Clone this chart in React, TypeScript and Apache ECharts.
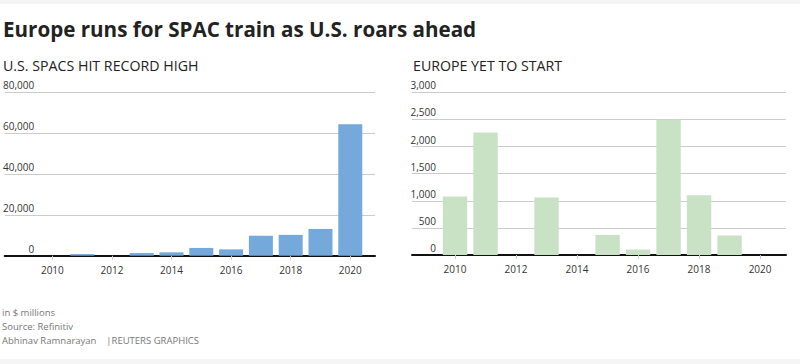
import React, { useEffect, useRef } from "react";
import * as echarts from "echarts";

const years = [2010, 2011, 2012, 2013, 2014, 2015, 2016, 2017, 2018, 2019, 2020];
const usValues = [0, 800, 0, 1300, 1650, 3800, 3100, 9750, 10200, 13100, 64300];
const europeValues = [1080, 2260, 0, 1060, 0, 370, 100, 2500, 1100, 360, 0];
const yearLabels = [2010, 2012, 2014, 2016, 2018, 2020];

const titleText = "Europe runs for SPAC train as U.S. roars ahead";
const leftSubtitle = "U.S. SPACS HIT RECORD HIGH";
const rightSubtitle = "EUROPE YET TO START";
const footerLines = ["in $ millions", "Source: Refinitiv", "Abhinav Ramnarayan    |REUTERS GRAPHICS"];

const FONT = "'Open Sans', 'Noto Sans', sans-serif";

export default function App() {
  const ref = useRef<HTMLDivElement>(null);
  useEffect(() => {
    if (!ref.current) return;
    const chart = echarts.init(ref.current, null, { renderer: "svg" });
    const xAxisBase = (min: number, max: number, gridIndex: number) => ({
      type: "value" as const,
      gridIndex,
      min,
      max,
      splitLine: { show: false },
      axisLine: { show: true, lineStyle: { color: "#111", width: 2 } },
      axisTick: { show: true, customValues: yearLabels, length: 4, lineStyle: { color: "#ccc" } },
      axisLabel: {
        customValues: yearLabels,
        formatter: (v: number) => String(v),
        color: "#333",
        fontSize: 10,
        fontFamily: FONT,
        margin: 9,
      },
    });
    const yAxisBase = (max: number, interval: number, gridIndex: number, margin: number) => ({
      type: "value" as const,
      gridIndex,
      min: 0,
      max,
      interval,
      axisLine: { show: false },
      axisTick: { show: false },
      splitLine: { show: true, lineStyle: { color: "#cccccc", width: 1 } },
      axisLabel: {
        inside: true,
        margin,
        align: "right",
        verticalAlign: "bottom",
        padding: [0, 0, 2, 0],
        color: "#333",
        fontSize: 10,
        fontFamily: FONT,
      },
    });
    chart.setOption({
      animation: false,
      backgroundColor: "#ffffff",
      grid: [
        { left: 1, top: 92.3, width: 374, height: 163.4, containLabel: false },
        { left: 412, top: 92.3, width: 374, height: 162.7, containLabel: false },
      ],
      xAxis: [xAxisBase(2008.4, 2020.83, 0), xAxisBase(2008.59, 2020.85, 1)],
      yAxis: [yAxisBase(80000, 20000, 0, 29.5), yAxisBase(3000, 500, 1, 24)],
      series: [
        {
          type: "bar",
          xAxisIndex: 0,
          yAxisIndex: 0,
          barWidth: 24,
          itemStyle: { color: "#75a9dc" },
          data: years.map((y, i) => [y, usValues[i]]),
        },
        {
          type: "bar",
          xAxisIndex: 1,
          yAxisIndex: 1,
          barWidth: 24.4,
          itemStyle: { color: "#c9e2c6" },
          data: years.map((y, i) => [y, europeValues[i]]),
        },
      ],
      graphic: [
        { type: "rect", left: 0, top: 0, shape: { width: 800, height: 4 }, style: { fill: "#f5f5f5" }, silent: true },
        { type: "rect", left: 0, top: 359, shape: { width: 800, height: 5 }, style: { fill: "#f5f5f5" }, silent: true },
        {
          type: "text",
          left: 3,
          top: 18,
          style: { text: titleText, fill: "#222", font: `bold 20.6px ${FONT}` },
        },
        {
          type: "text",
          left: 3,
          top: 58.5,
          style: { text: leftSubtitle, fill: "#222", font: `14.2px ${FONT}` },
        },
        {
          type: "text",
          left: 413,
          top: 58.5,
          style: { text: rightSubtitle, fill: "#222", font: `14.2px ${FONT}` },
        },
        ...footerLines.map((t, i) => ({
          type: "text",
          left: 2,
          top: 307 + i * 14,
          style: { text: t, fill: "#777", font: `9.5px ${FONT}` },
        })),
      ],
    });
    return () => chart.dispose();
  }, []);
  return <div ref={ref} style={{ position: "fixed", left: 0, top: 0, width: 800, height: 364 }} />;
}
